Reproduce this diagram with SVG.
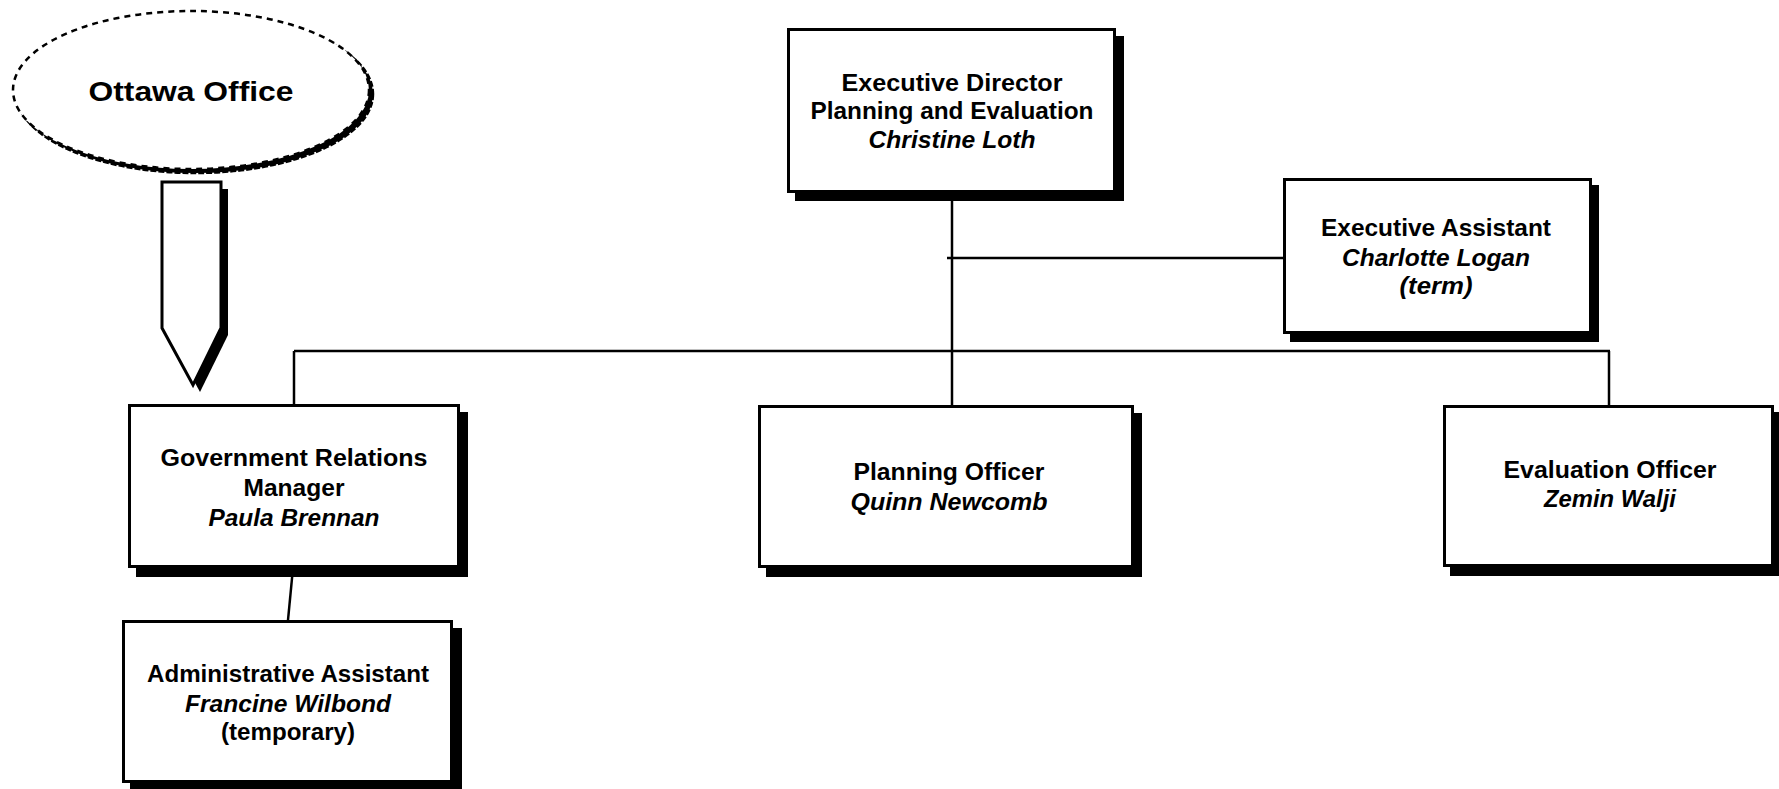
<svg xmlns="http://www.w3.org/2000/svg" width="1779" height="789" viewBox="0 0 1779 789">
<style>
.box{fill:#fff;stroke:#000;stroke-width:3}
.sh{fill:#000}
.t{font-family:"Liberation Sans",Arial,sans-serif;font-weight:bold;font-size:23px;text-anchor:middle;fill:#000}
.i{font-style:italic}
.c{fill:none;stroke:#000;stroke-width:2.5}
</style>
<rect width="1779" height="789" fill="#fff"/>
<g id="ottawa">
<ellipse cx="195" cy="94" rx="178" ry="79" fill="#000" stroke="#000" stroke-width="2.5" stroke-dasharray="6 2"/>
<ellipse cx="191" cy="90" rx="178" ry="79" fill="#fff" stroke="#000" stroke-width="2.5" stroke-dasharray="6 5"/>
<text class="t" x="191" y="101" style="font-size:28px" textLength="205" lengthAdjust="spacingAndGlyphs">Ottawa Office</text>
</g>
<g id="ottawa-arrow">
<polygon class="sh" transform="translate(7,7)" points="162,182 221,182 221,328 193,385 162,328"/>
<polygon class="box" points="162,182 221,182 221,328 193,385 162,328"/>
</g>
<g id="connectors">
<line class="c" x1="952" y1="193" x2="952" y2="405"/>
<line class="c" x1="947" y1="258" x2="1283" y2="258"/>
<line class="c" x1="294" y1="351" x2="1610" y2="351"/>
<line class="c" x1="294" y1="351" x2="294" y2="404"/>
<line class="c" x1="1609" y1="351" x2="1609" y2="405"/>
<line class="c" x1="293" y1="568" x2="288" y2="620"/>
</g>
<g id="exec-director">
<rect class="sh" x="795" y="36" width="329" height="165"/>
<rect class="box" x="788.5" y="29.5" width="326" height="162"/>
<text class="t" x="952" y="91" textLength="221" lengthAdjust="spacingAndGlyphs">Executive Director</text>
<text class="t" x="952" y="119" textLength="283" lengthAdjust="spacingAndGlyphs">Planning and Evaluation</text>
<text class="t i" x="952" y="148" textLength="167" lengthAdjust="spacingAndGlyphs">Christine Loth</text>
</g>
<g id="exec-assistant">
<rect class="sh" x="1290" y="185" width="309" height="157"/>
<rect class="box" x="1284.5" y="179.5" width="306" height="153"/>
<text class="t" x="1436" y="236" textLength="230" lengthAdjust="spacingAndGlyphs">Executive Assistant</text>
<text class="t i" x="1436" y="266" textLength="188" lengthAdjust="spacingAndGlyphs">Charlotte Logan</text>
<text class="t i" x="1436" y="294" textLength="73" lengthAdjust="spacingAndGlyphs">(term)</text>
</g>
<g id="gov-relations">
<rect class="sh" x="136" y="412" width="332" height="165"/>
<rect class="box" x="129.5" y="405.5" width="329" height="161"/>
<text class="t" x="294" y="466" textLength="267" lengthAdjust="spacingAndGlyphs">Government Relations</text>
<text class="t" x="294" y="496" textLength="101" lengthAdjust="spacingAndGlyphs">Manager</text>
<text class="t i" x="294" y="526" textLength="171" lengthAdjust="spacingAndGlyphs">Paula Brennan</text>
</g>
<g id="admin-assistant">
<rect class="sh" x="130" y="628" width="332" height="165"/>
<rect class="box" x="123.5" y="621.5" width="328" height="160"/>
<text class="t" x="288" y="682" textLength="282" lengthAdjust="spacingAndGlyphs">Administrative Assistant</text>
<text class="t i" x="288" y="712" textLength="206" lengthAdjust="spacingAndGlyphs">Francine Wilbond</text>
<text class="t" x="288" y="740" textLength="134" lengthAdjust="spacingAndGlyphs">(temporary)</text>
</g>
<g id="planning-officer">
<rect class="sh" x="766" y="413" width="376" height="164"/>
<rect class="box" x="759.5" y="406.5" width="373" height="160"/>
<text class="t" x="949" y="480" textLength="191" lengthAdjust="spacingAndGlyphs">Planning Officer</text>
<text class="t i" x="949" y="510" textLength="197" lengthAdjust="spacingAndGlyphs">Quinn Newcomb</text>
</g>
<g id="evaluation-officer">
<rect class="sh" x="1450" y="412" width="332" height="164"/>
<rect class="box" x="1444.5" y="406.5" width="328" height="159"/>
<text class="t" x="1610" y="478" textLength="213" lengthAdjust="spacingAndGlyphs">Evaluation Officer</text>
<text class="t i" x="1610" y="507" textLength="132" lengthAdjust="spacingAndGlyphs">Zemin Walji</text>
</g>
</svg>
